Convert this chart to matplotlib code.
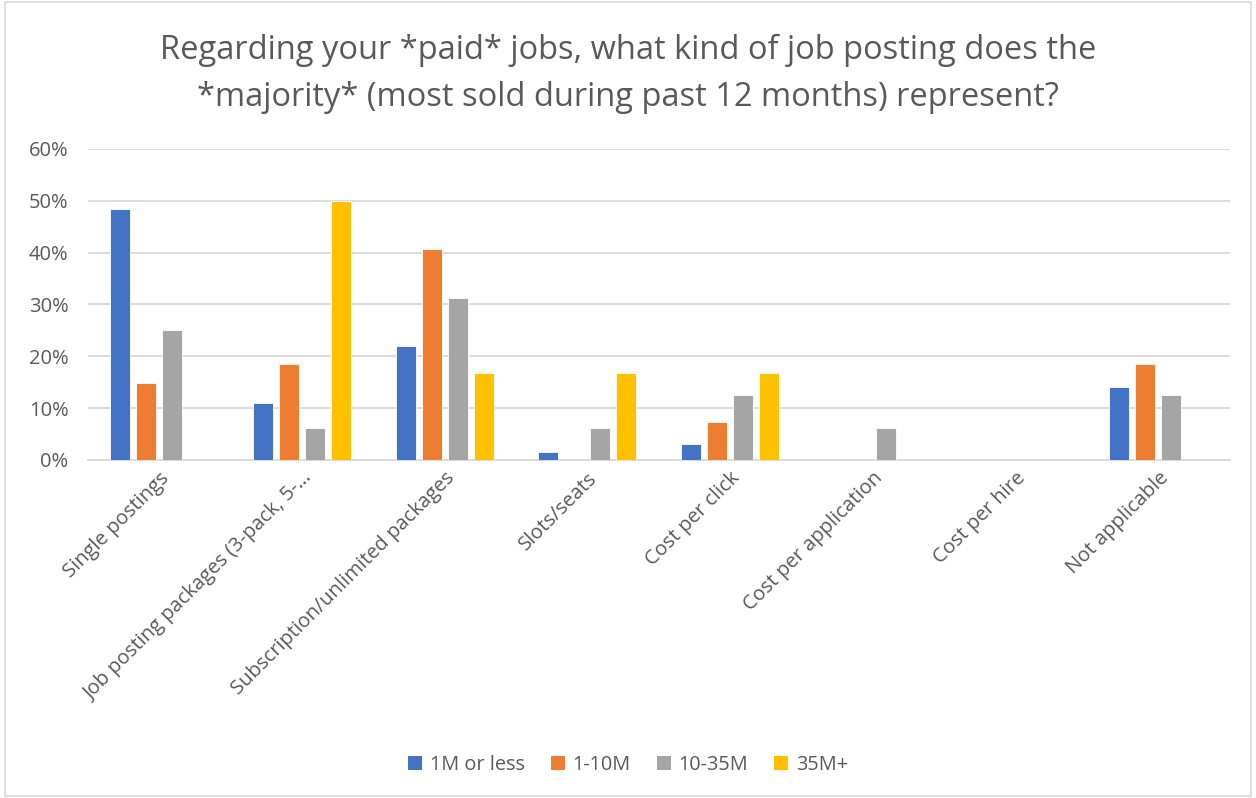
import numpy as np
import matplotlib
matplotlib.use("Agg")
import matplotlib.pyplot as plt
from matplotlib.patches import Rectangle, Patch
from matplotlib.ticker import PercentFormatter

plt.rcParams['font.family'] = ['Open Sans', 'DejaVu Sans']

categories = [
    "Single postings",
    "Job posting packages (3-pack, 5-…",
    "Subscription/unlimited packages",
    "Slots/seats",
    "Cost per click",
    "Cost per application",
    "Cost per hire",
    "Not applicable",
]
series_names = ["1M or less", "1-10M", "10-35M", "35M+"]
colors = ["#4472C4", "#ED7D31", "#A5A5A5", "#FFC000"]

# share of respondents per revenue band, in percent
small = [48.4, 10.9, 21.9, 1.6, 3.1, 0.0, 0.0, 14.1]
mid = [14.8, 18.5, 40.7, 0.0, 7.4, 0.0, 0.0, 18.5]
large = [25.0, 6.25, 31.25, 6.25, 12.5, 6.25, 0.0, 12.5]
biggest = [0.0, 50.0, 16.7, 16.7, 16.7, 0.0, 0.0, 0.0]
series = [small, mid, large, biggest]

fig = plt.figure(figsize=(12.56, 7.98), dpi=100)
ax = fig.add_axes([0.070, 0.4236, 0.909, 0.3897])

x = np.arange(len(categories))
bar_w = 0.14
step = 0.182
for i, (vals, col) in enumerate(zip(series, colors)):
    ax.bar(x + (i - 1.5) * step, vals, width=bar_w, color=col,
           edgecolor="white", linewidth=0.6, zorder=3)

ax.set_xlim(-0.5, len(categories) - 0.5)
ax.set_ylim(0, 60)
ax.set_yticks(np.arange(0, 61, 10))
ax.yaxis.set_major_formatter(PercentFormatter(decimals=0))
ax.grid(axis="y", color="#D9D9D9", linewidth=1.3, zorder=0)
for side in ["top", "right", "left"]:
    ax.spines[side].set_visible(False)
ax.spines["bottom"].set_color("#D9D9D9")
ax.spines["bottom"].set_linewidth(1.3)
ax.tick_params(axis="y", length=0, pad=14, labelsize=14.5, labelcolor="#595959")
ax.tick_params(axis="x", length=0, pad=6, labelsize=14.5, labelcolor="#595959")
ax.set_xticks(x)
ax.set_xticklabels(categories, rotation=45, ha="right", va="top",
                   rotation_mode="anchor")

fig.suptitle("Regarding your *paid* jobs, what kind of job posting does the\n"
             "*majority* (most sold during past 12 months) represent?",
             y=0.907, va="center", fontsize=23.5, color="#595959",
             linespacing=1.57)

handles = [Patch(facecolor=c, label=n) for c, n in zip(colors, series_names)]
fig.legend(handles=handles, loc="center", bbox_to_anchor=(0.5, 0.041), ncol=4,
           frameon=False, fontsize=14.3, handlelength=0.7, handleheight=0.7,
           handletextpad=0.4, columnspacing=1.3, labelcolor="#595959")

fig.patches.append(Rectangle((0.004, 0.003), 0.992, 0.994, transform=fig.transFigure,
                             fill=False, edgecolor="#D9D9D9", linewidth=1.2))

fig.savefig("out.png", dpi=100)
